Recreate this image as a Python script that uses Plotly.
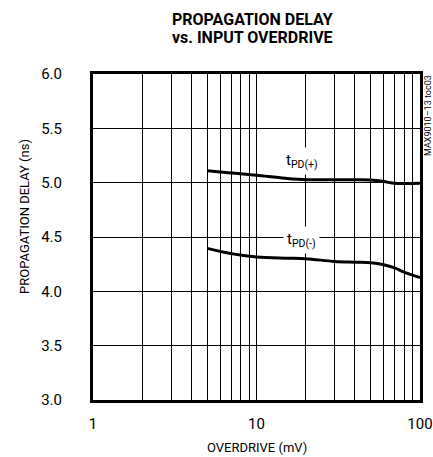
import plotly.graph_objects as go

overdrive_pos = [5, 7, 10, 15, 20, 30, 40, 50, 60, 70, 80, 100]
tpd_pos = [5.11, 5.09, 5.068, 5.04, 5.027, 5.027, 5.026, 5.024, 5.01, 4.994, 4.992, 4.994]

overdrive_neg = [5, 7, 10, 15, 20, 30, 40, 50, 60, 70, 80, 100]
tpd_neg = [4.395, 4.347, 4.317, 4.305, 4.30, 4.275, 4.268, 4.263, 4.245, 4.216, 4.177, 4.126]

x_ticks = [1, 10, 100]
x_ticklabels = ["1", "10", "100"]
y_ticks = [3.0, 3.5, 4.0, 4.5, 5.0, 5.5, 6.0]

FONT = "Roboto, Liberation Sans, sans-serif"

W, H = 433, 457
ML, MR, MT, MB = 93, 13, 74, 57
PH = H - MT - MB

def py(pix):
    # pixel row -> paper y
    return (H - MB - pix) / PH

def px(pix):
    return (pix - ML) / (W - ML - MR)

fig = go.Figure()
fig.add_trace(go.Scatter(x=overdrive_pos, y=tpd_pos, mode="lines",
                         line=dict(color="black", width=3, shape="spline"), showlegend=False))
fig.add_trace(go.Scatter(x=overdrive_neg, y=tpd_neg, mode="lines",
                         line=dict(color="black", width=3, shape="spline"), showlegend=False))

fig.update_layout(
    width=W, height=H,
    margin=dict(l=ML, r=MR, t=MT, b=MB, autoexpand=False),
    paper_bgcolor="white", plot_bgcolor="white",
    font=dict(family=FONT, color="black", size=14),
    xaxis=dict(type="log", range=[0, 2], tickvals=x_ticks, ticktext=x_ticklabels,
               showgrid=True, gridcolor="black", gridwidth=1,
               minor=dict(showgrid=True, gridcolor="black", gridwidth=1, dtick="D1", ticks=""),
               showline=True, linecolor="black", linewidth=3, mirror=True,
               ticks="", zeroline=False, ticklabelstandoff=8, automargin=False,
               tickfont=dict(size=15, family=FONT)),
    yaxis=dict(range=[3.0, 6.0], tickvals=y_ticks, tickformat=".1f",
               showgrid=True, gridcolor="black", gridwidth=1,
               showline=True, linecolor="black", linewidth=3, mirror=True,
               ticks="", zeroline=False, ticklabelstandoff=25, automargin=False,
               tickfont=dict(size=15, family=FONT)),
)

# title lines
fig.add_annotation(x=px(252), y=py(19), xref="paper", yref="paper", text="<b>PROPAGATION DELAY</b>",
                   showarrow=False, xanchor="center", yanchor="middle",
                   font=dict(size=16, family=FONT))
fig.add_annotation(x=px(252), y=py(38), xref="paper", yref="paper", text="<b>vs. INPUT OVERDRIVE</b>",
                   showarrow=False, xanchor="center", yanchor="middle",
                   font=dict(size=16, family=FONT))
# axis titles
fig.add_annotation(x=px(257), y=py(447), xref="paper", yref="paper", text="OVERDRIVE (mV)",
                   showarrow=False, xanchor="center", yanchor="middle",
                   font=dict(size=13, family=FONT))
fig.add_annotation(x=px(24), y=py(217), xref="paper", yref="paper", text="PROPAGATION DELAY (ns)",
                   showarrow=False, xanchor="center", yanchor="middle", textangle=-90,
                   font=dict(size=13, family=FONT))
# curve labels
fig.add_annotation(x=1.276, y=5.2, xref="x", yref="y", text="t<sub>PD(+)</sub>",
                   showarrow=False, font=dict(size=15, family=FONT), bgcolor="white", borderpad=3)
fig.add_annotation(x=1.276, y=4.47, xref="x", yref="y", text="t<sub>PD(-)</sub>",
                   showarrow=False, font=dict(size=15, family=FONT), bgcolor="white", borderpad=3)
# side code
fig.add_annotation(x=px(428), y=py(116), xref="paper", yref="paper", xanchor="center", yanchor="middle",
                   text="MAX9010–13 toc03", textangle=-90, showarrow=False,
                   font=dict(size=9, family=FONT))

fig.write_html("out.html", config={"displayModeBar": False},
               post_script="document.body.style.margin='0';document.body.style.overflow='hidden';")
